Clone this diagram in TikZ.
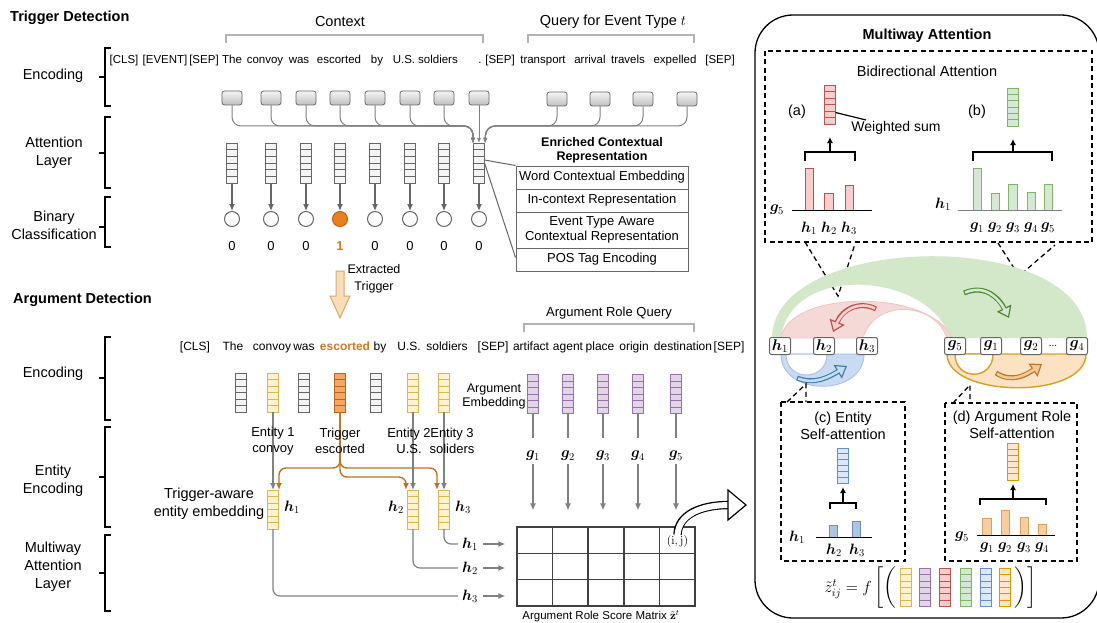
\RequirePackage{fix-cm}
\documentclass[tikz,border=0pt]{standalone}
\usepackage[no-math]{fontspec}
\setmainfont{Liberation Sans}
\usepackage{amsmath,bm}
\usetikzlibrary{arrows.meta,calc}
\definecolor{gS}{HTML}{666666}
\definecolor{gF}{HTML}{F5F5F5}
\definecolor{yS}{HTML}{D6B656}
\definecolor{yF}{HTML}{FFF2CC}
\definecolor{pS}{HTML}{9673A6}
\definecolor{pF}{HTML}{E1D5E7}
\definecolor{rS}{HTML}{B85450}
\definecolor{rF}{HTML}{F8CECC}
\definecolor{grS}{HTML}{82B366}
\definecolor{grF}{HTML}{D5E8D4}
\definecolor{bS}{HTML}{6C8EBF}
\definecolor{bF}{HTML}{DAE8FC}
\definecolor{oS}{HTML}{D79B00}
\definecolor{oF}{HTML}{FFE6CC}
\definecolor{tS}{HTML}{B8651B}
\definecolor{tF}{HTML}{F2A862}
\definecolor{oLine}{HTML}{C07020}
\definecolor{cnn}{HTML}{808080}
\definecolor{brk}{HTML}{B3B3B3}
\definecolor{orTxt}{HTML}{D07A20}
\definecolor{cirF}{HTML}{E8801E}
\definecolor{extF}{HTML}{F9DDB8}
\definecolor{extS}{HTML}{D9A86A}
\definecolor{regG}{HTML}{D3E8C8}
\definecolor{regP}{HTML}{F5D9D7}
\definecolor{regPs}{HTML}{EFC4C1}
\definecolor{regB}{HTML}{C9DBF3}
\definecolor{regBs}{HTML}{A9C4EB}
\definecolor{regO}{HTML}{FBE2C3}
\definecolor{arG}{HTML}{4F8A30}
\definecolor{arGf}{HTML}{D5E8D4}
\definecolor{arB}{HTML}{4A7CA8}
\definecolor{arBf}{HTML}{BFE0F2}
\definecolor{arO}{HTML}{B87733}
\definecolor{arOf}{HTML}{F4C891}
\definecolor{gold}{HTML}{D4A025}
\definecolor{barO}{HTML}{F5CFA0}
\definecolor{barOs}{HTML}{D9A060}
\tikzset{
 vec/.style 2 args={draw=#1, fill=#2, line width=0.9pt, minimum width=11pt, minimum height=39pt, inner sep=0pt, outer sep=0pt,
   path picture={\foreach \k in {1,...,5}{\draw[#1, line width=0.8pt] ($(path picture bounding box.north west)!\k/6!(path picture bounding box.south west)$) -- ($(path picture bounding box.north east)!\k/6!(path picture bounding box.south east)$);}}},
 tbox/.style={draw=gS, line width=0.8pt, rounded corners=2.5pt, minimum width=20pt, minimum height=14pt, top color=gray!8, bottom color=gray!50, inner sep=0pt},
 lab/.style={font=\fontsize{14.5}{18}\selectfont, align=center, inner sep=0pt},
 head/.style={font=\bfseries\fontsize{14.5}{17}\selectfont, anchor=west, inner sep=0pt},
 tok/.style={font=\fontsize{11.5}{14}\selectfont, anchor=base, inner sep=0pt},
 atok/.style={font=\fontsize{12}{14}\selectfont, anchor=base, inner sep=0pt},
 blk/.style={line width=2pt, draw=black},
 gbr/.style={draw=brk, line width=1.6pt},
 bus/.style={draw=cnn, line width=1pt, rounded corners=9pt, -{Latex[length=5pt,width=4pt]}},
 garr/.style={draw=gS, line width=1.2pt, -{Latex[length=7pt,width=6pt]}},
 karr/.style={draw=black, line width=1.3pt, -{Latex[length=6pt,width=6pt]}},
 gline/.style={draw=cnn, line width=1.2pt},
 orl/.style={draw=oLine, line width=1.4pt, rounded corners=7pt, -{Latex[length=7pt,width=6pt]}},
 row/.style={draw=gS, line width=1pt, minimum width=172pt, inner sep=0pt, align=center, font=\fontsize{13}{15.5}\selectfont},
 circ/.style={circle, draw=gS, line width=1pt, minimum size=15pt, inner sep=0pt},
 num/.style={font=\fontsize{13}{15}\selectfont, inner sep=0pt},
 ent/.style={font=\fontsize{13}{16}\selectfont, align=center, inner sep=0pt},
 ml/.style={font=\fontsize{15}{17}\selectfont, inner sep=0pt},
 abox/.style={draw=gS, fill=white, rounded corners=2pt, line width=1pt, minimum width=21pt, minimum height=17pt, inner sep=0pt, font=\fontsize{15.5}{17}\selectfont},
 dsh/.style={draw=black, line width=1.3pt, dash pattern=on 5pt off 3.5pt},
 bar/.style 2 args={draw=#1, fill=#2, line width=0.8pt},
 axl/.style={draw=black, line width=1pt},
 harr/.style 2 args={draw=#1, line width=5pt, -{Triangle[length=11pt,width=16pt,fill=#2,line width=1.2pt]}},
 hin/.style={line width=2.6pt, shorten >=7pt, shorten <=1.2pt},
}
\begin{document}
\begin{tikzpicture}[x=1pt,y=-1pt]
\useasboundingbox (0,0) rectangle (1097,623);

% ---------------- headings and left labels
\node[head] (hTD) at (10,18) {Trigger Detection};
\node[head] (hAD) at (13,300) {Argument Detection};
\node[lab] (l1) at (53,76) {Encoding};
\node[lab] (l2) at (54,153) {Attention\\Layer};
\node[lab] (l3) at (54,225) {Binary\\Classification};
\node[lab] (l4) at (53,374) {Encoding};
\node[lab] (l5) at (53,481) {Entity\\Encoding};
\node[lab] (l6) at (53,567) {Multiway\\Attention\\Layer};
\foreach \t/\b/\m in {48/106/77, 117/188/153, 197/247/227, 337/420/378, 427/527/477, 535/611/573}
  \draw[blk] (111,\t) -- (105,\t) -- (105,\b) -- (111,\b) (105,\m) -- (99,\m);

% ---------------- trigger detection
\node[font=\fontsize{14.5}{17}\selectfont] (ctx) at (340,22) {Context};
\node[font=\fontsize{14.5}{17}\selectfont] (qry) at (613,22) {Query for Event Type $t$};
\draw[gbr] (226,43) -- (226,35) -- (483,35) -- (483,43);
\draw[gbr] (528,43) -- (528,35) -- (694,35) -- (694,43);

\foreach \w/\x [count=\n] in {{[CLS]}/124,{[EVENT]}/165,{[SEP]}/204,The/232,convoy/265,was/299,escorted/339,by/377,U.S./404,soldiers/438,./480,{[SEP]}/500,transport/543,arrival/590,travels/628,expelled/675,{[SEP]}/720}
  \node[tok] (tt\n) at (\x,64) {\w};

\foreach \x [count=\i] in {232,271,306,340,375,410,444,479}{
  \node[tbox] (b\i) at (\x,98) {};
  \node[vec={gS}{gF}, minimum height=40pt] (tv\i) at (\x,163) {};
}
\foreach \x [count=\i] in {557,600,643,687}
  \node[tbox] (q\i) at (\x,99) {};
\coordinate (jl) at (473,126);
\coordinate (jr) at (486,126);
\foreach \i in {1,...,7}
  \draw[bus] (b\i.south) |- (jl) -- ([xshift=-6pt]tv8.north);
\foreach \i in {1,...,4}
  \draw[bus] (q\i.south) |- (jr) -- ([xshift=6pt]tv8.north);
\draw[bus] (b8.south) -- (tv8.north);

\foreach \x [count=\i] in {232,271,306,340,375,410,444,479}{
  \ifnum\i=4
    \node[circ, fill=cirF, draw=tS] (c\i) at (\x,219) {};
    \node[num, text=orTxt, font=\bfseries\fontsize{13}{15}\selectfont] (n\i) at (\x,246) {1};
  \else
    \node[circ] (c\i) at (\x,219) {};
    \node[num] (n\i) at (\x,246) {0};
  \fi
  \draw[garr] (tv\i.south) -- (c\i.north);
}

\node[font=\bfseries\fontsize{12.5}{14}\selectfont, align=center] (ecr) at (602,150) {Enriched Contextual\\Representation};
\node[row, minimum height=23pt] (r1) at (602,177.5) {Word Contextual Embedding};
\node[row, minimum height=23pt] (r2) at (602,200.5) {In-context Representation};
\node[row, minimum height=36pt] (r3) at (602,230) {Event Type Aware\\Contextual Representation};
\node[row, minimum height=23pt] (r4) at (602,259.5) {POS Tag Encoding};
\draw[gS, line width=1pt] ([yshift=3pt]tv8.east) -- (r1.north west);
\draw[gS, line width=1pt] (tv8.east) -- ([yshift=2pt]r4.west);

% extracted trigger arrow
\draw[draw=extS, fill=extF, line width=1pt] (336,271) -- (344,271) -- (344,296) -- (350,296) -- (340,318) -- (330,296) -- (336,296) -- cycle;
\node[font=\fontsize{12.5}{17}\selectfont, align=center] (ext) at (374,279) {Extracted\\Trigger};

% ---------------- argument detection
\foreach \w/\x [count=\n] in {{[CLS]}/195,The/233,convoy/272,was/304,by/380,U.S./409,soldiers/447,{[SEP]}/493,artifact/531,agent/568,place/600,origin/634,destination/683,{[SEP]}/729}
  \node[atok] (at\n) at (\x,350) {\w};
\node[atok, text=orTxt, font=\bfseries\fontsize{12}{14}\selectfont] (atE) at (345,350) {escorted};

\node[font=\fontsize{13}{15}\selectfont] (arq) at (609,313) {Argument Role Query};
\draw[gbr] (524,332) -- (524,324) -- (694,324) -- (694,332);

\node[vec={gS}{gF}] (av1) at (241,392.5) {};
\node[vec={yS}{yF}] (av2) at (273,392.5) {};
\node[vec={gS}{gF}] (av3) at (304,392.5) {};
\node[vec={tS}{tF}] (av4) at (340,392.5) {};
\node[vec={gS}{gF}] (av5) at (376,392.5) {};
\node[vec={yS}{yF}] (av6) at (413,392.5) {};
\node[vec={yS}{yF}] (av7) at (444,392.5) {};

\node[vec={yS}{yF}] (hv1) at (273,509.5) {};
\node[vec={yS}{yF}] (hv2) at (413,509.5) {};
\node[vec={yS}{yF}] (hv3) at (444,509.5) {};

\draw[orl] (av4.south) -- (340,468) -| ([xshift=6pt]hv1.north);
\draw[orl] (av4.south) -- (340,468) -| ([xshift=-7pt]hv3.north);
\draw[orl] (av4.south) |- (380,477) -| ([xshift=-7pt]hv2.north);
\draw[garr, draw=cnn] (av2.south) -- (hv1.north);
\draw[garr, draw=cnn] (av6.south) -- (hv2.north);
\draw[garr, draw=cnn] (av7.south) -- (hv3.north);

\node[ent] (e1) at (273,441) {Entity 1\\convoy};
\node[ent] (e2) at (340,441) {Trigger\\escorted};
\node[ent] (e3) at (409,441) {Entity 2\\U.S.};
\node[ent] (e4) at (452,441) {Entity 3\\soliders};

\node[ml] (lh1) at (292,507) {$\bm{h}_{1}$};
\node[ml] (lh2) at (396,507) {$\bm{h}_{2}$};
\node[ml] (lh3) at (463,507) {$\bm{h}_{3}$};
\node[font=\fontsize{14.5}{18}\selectfont, align=center] (tae) at (209,504) {Trigger-aware\\entity embedding};

\node[font=\fontsize{12.5}{14}\selectfont, align=center] (aemb) at (494,396) {Argument\\Embedding};

% matrix
\node[draw=black!75, line width=1.3pt, minimum width=178pt, minimum height=79pt, inner sep=0pt] (mat) at (606,566.5) {};
\foreach \c in {1,...,4}
  \draw[black!75, line width=1.2pt] ($(mat.north west)!\c/5!(mat.north east)$) -- ($(mat.south west)!\c/5!(mat.south east)$);
\foreach \c in {1,2}
  \draw[black!75, line width=1.2pt] ($(mat.north west)!\c/3!(mat.south west)$) -- ($(mat.north east)!\c/3!(mat.south east)$);
\node[font=\fontsize{12}{14}\selectfont, inner sep=0pt] (ij) at (677.5,541) {$(\mathrm{i,j})$};

\foreach \x [count=\j] in {533,568,603,638,676}{
  \node[vec={pS}{pF}] (pv\j) at (\x,394) {};
  \node[ml] (g\j) at (\x,456) {$\bm{g}_{\j}$};
  \draw[gline] (pv\j.south) -- ++(0,24);
  \draw[garr, draw=cnn] ([yshift=-3pt]g\j.south) -- ([yshift=16pt]mat.north -| g\j);
}

\node[ml] (lm1) at (470,544) {$\bm{h}_{1}$};
\node[ml] (lm2) at (470,568) {$\bm{h}_{2}$};
\node[ml] (lm3) at (470,596) {$\bm{h}_{3}$};
\foreach \k in {1,2,3}
  \draw[garr, draw=cnn] ([xshift=5pt]lm\k.east) -- ([xshift=-11pt]mat.west |- lm\k);
\draw[gline, rounded corners=7pt] (hv3.south) |- ([xshift=-4pt]lm1.west);
\draw[gline, rounded corners=7pt] (hv2.south) |- ([xshift=-4pt]lm2.west);
\draw[gline, rounded corners=7pt] (hv1.south) |- ([xshift=-4pt]lm3.west);

\node[font=\fontsize{11.5}{14}\selectfont, inner sep=0pt] (cap) at (601,616.5) {Argument Role Score Matrix $\tilde{\mathbf{z}}^{t}$};

% hollow arrow from (i,j)
\coordinate (ha) at (729,505);
\draw[black, line width=8.4pt] (ij.north) .. controls (678,515) and (700,505) .. (ha);
\draw[white, line width=6pt] ([yshift=-1.2pt]ij.north) .. controls (678,515) and (700,505) .. ([xshift=1pt]ha);
\draw[fill=white, draw=black, line width=1.2pt] (728,490) -- (746,505) -- (728,520) -- cycle;

% ---------------- right panel
\draw[black, line width=1.3pt, rounded corners=38pt] (755,15) rectangle (1099,618);
\node[font=\bfseries\fontsize{14.5}{17}\selectfont] (mwa) at (927,36) {Multiway Attention};
\draw[dsh] (765,51) rectangle (1092,242);
\node[font=\fontsize{14.5}{17}\selectfont] (bia) at (927,71) {Bidirectional Attention};

% (a)
\node[font=\fontsize{14.5}{17}\selectfont] (pa) at (797,112) {(a)};
\node[vec={rS}{rF}] (rv) at (830,104.5) {};
\node[font=\fontsize{14}{16}\selectfont] (ws) at (896,128) {Weighted sum};
\coordinate (wsl) at (866,120);
\draw[black, line width=1.2pt] ([yshift=-8pt]rv.east) -- (wsl);
\draw[black, line width=1.3pt] (805,161) -- (805,152) -- (855,152) -- (855,161);
\draw[karr] (830,152) -- ([yshift=-13pt]rv.south);
\draw[bar={rS}{rF}] (805,210) rectangle (813,168);
\draw[bar={rS}{rF}] (824,210) rectangle (833,193);
\draw[bar={rS}{rF}] (845,210) rectangle (853,185);
\draw[axl] (792,210) -- (872,210);
\node[ml] (ag5) at (777,210) {$\bm{g}_{5}$};
\node[ml] (ah1) at (809,228) {$\bm{h}_{1}$};
\node[ml] (ah2) at (829,228) {$\bm{h}_{2}$};
\node[ml] (ah3) at (849,228) {$\bm{h}_{3}$};

% (b)
\node[font=\fontsize{14.5}{17}\selectfont] (pb) at (977,112) {(b)};
\node[vec={grS}{grF}, minimum height=38pt] (gv) at (1013,107) {};
\draw[black, line width=1.3pt] (973,161) -- (973,152) -- (1052,152) -- (1052,161);
\draw[karr] (1013,152) -- ([yshift=-13pt]gv.south);
\draw[bar={grS}{grF}] (973,210) rectangle (981,168);
\draw[bar={grS}{grF}] (991,210) rectangle (999,193);
\draw[bar={grS}{grF}] (1008,210) rectangle (1017,184);
\draw[bar={grS}{grF}] (1027,210) rectangle (1035,192);
\draw[bar={grS}{grF}] (1044,210) rectangle (1052,184);
\draw[axl, draw=gray] (958,210) -- (1062,210);
\node[ml] (bh1) at (943,204) {$\bm{h}_{1}$};
\foreach \x [count=\j] in {977,995,1013,1031,1048}
  \node[ml] (bg\j) at (\x,228) {$\bm{g}_{\j}$};

% dashed pointers
\draw[dsh] (805,242) -- (838,296) -- (855,244);
\draw[dsh] (998,243) -- (1019,276) -- (1055,245);

% arc regions
\fill[regG] (772,338) .. controls (772,232) and (1087,226) .. (1087,338) -- (950,338) .. controls (930,272) and (790,262) .. (781,338) -- cycle;
\filldraw[fill=regP, draw=regPs, line width=0.8pt] (781,338) .. controls (788,290) and (930,288) .. (952,338) -- (947,338) .. controls (935,302) and (875,298) .. (863,338) -- cycle;
\filldraw[fill=regB, draw=regBs, line width=1pt] (781,354) .. controls (781,397) and (864,397) .. (864,354) -- cycle;
\filldraw[fill=white, draw=regBs, line width=1pt] (786,354) .. controls (786,382) and (827,382) .. (827,354) -- cycle;
\filldraw[fill=regO, draw=gold, line width=1.4pt] (947,354) .. controls (947,398) and (1086,400) .. (1086,354) -- cycle;
\filldraw[fill=white, draw=gold, line width=1.4pt] (955,354) .. controls (955,381) and (993,381) .. (993,354) -- cycle;

% arc arrows
\draw[harr={rS}{rF}] (876,309) .. controls (860,301) and (843,308) .. (833,332);
\draw[rF, hin] (876,309) .. controls (860,301) and (843,308) .. (833,332);
\draw[harr={arG}{arGf}] (964,293) .. controls (985,284) and (999,298) .. (1009,318);
\draw[arGf, hin] (964,293) .. controls (985,284) and (999,298) .. (1009,318);
\draw[harr={arB}{arBf}] (797,378) .. controls (815,385) and (829,377) .. (847,366);
\draw[arBf, hin] (797,378) .. controls (815,385) and (829,377) .. (847,366);
\draw[harr={arO}{arOf}] (996,373) .. controls (1012,383) and (1026,375) .. (1042,364);
\draw[arOf, hin] (996,373) .. controls (1012,383) and (1026,375) .. (1042,364);

% token boxes
\node[abox] (kh1) at (780,346) {$\bm{h}_{1}$};
\node[abox] (kh2) at (824,346) {$\bm{h}_{2}$};
\node[abox] (kh3) at (867,346) {$\bm{h}_{3}$};
\node[abox] (kg5) at (955,346) {$\bm{g}_{5}$};
\node[abox] (kg1) at (991,346) {$\bm{g}_{1}$};
\node[abox] (kg2) at (1031,346) {$\bm{g}_{2}$};
\node[font=\fontsize{10}{12}\selectfont, inner sep=0pt] (kdots) at (1053,346) {...};
\node[abox] (kg4) at (1077,346) {$\bm{g}_{4}$};

% (c)
\draw[dsh] (781,402) rectangle (905,561);
\draw[dsh] (787,402) -- (806,384) -- (806,402);
\node[font=\fontsize{14.5}{17}\selectfont, align=center] (pc) at (843,426) {(c) Entity\\Self-attention};
\node[vec={bS}{bF}, minimum height=35pt] (bv) at (843,465.5) {};
\draw[black, line width=1.3pt] (830,509) -- (830,503) -- (856,503) -- (856,509);
\draw[karr] (843,503) -- ([yshift=-4pt]bv.south);
\draw[bar={bS}{bF!60!bS}] (829,537) rectangle (837,525);
\draw[bar={bS}{bF!60!bS}] (852,537) rectangle (860,521);
\draw[axl] (816,537) -- (872,537);
\node[ml] (ch1) at (797,537) {$\bm{h}_{1}$};
\node[ml] (ch2) at (834,550) {$\bm{h}_{2}$};
\node[ml] (ch3) at (857,550) {$\bm{h}_{3}$};

% (d)
\draw[dsh] (945,403) rectangle (1077,561);
\draw[dsh] (953,403) -- (970,385) -- (970,403);
\node[font=\fontsize{14.5}{17}\selectfont, align=center] (pd) at (1012,425) {(d) Argument Role\\Self-attention};
\node[vec={oS}{oF}, minimum height=37pt] (ov) at (1013,461.5) {};
\draw[black, line width=1.3pt] (980,505) -- (980,499) -- (1046,499) -- (1046,505);
\draw[karr] (1013,499) -- ([yshift=-4pt]ov.south);
\draw[bar={barOs}{barO}] (982,535) rectangle (991,518);
\draw[bar={barOs}{barO}] (1001,535) rectangle (1009,510);
\draw[bar={barOs}{barO}] (1020,535) rectangle (1028,517);
\draw[bar={barOs}{barO}] (1038,535) rectangle (1046,524);
\draw[axl] (977,535) -- (1055,535);
\node[ml] (dg5) at (962,537) {$\bm{g}_{5}$};
\foreach \x [count=\j] in {987,1005,1024,1042}
  \node[ml] (dg\j) at (\x,548) {$\bm{g}_{\j}$};

% formula
\node[font=\fontsize{16}{18}\selectfont, anchor=east, inner sep=0pt] (fz) at (899,588) {$\tilde{z}^{t}_{ij}=f\left[\left(\vrule height 18pt depth 16pt width 0pt\right.\right.$};
\node[vec={yS}{yF}, minimum height=38pt] (fv1) at (905.5,587.5) {};
\node[vec={pS}{pF}, minimum height=38pt] (fv2) at (925,587.5) {};
\node[vec={rS}{rF}, minimum height=38pt] (fv3) at (945,587.5) {};
\node[vec={grS}{grF}, minimum height=38pt] (fv4) at (966,587.5) {};
\node[vec={bS}{bF}, minimum height=38pt] (fv5) at (986,587.5) {};
\node[vec={oS}{oF}, minimum height=38pt] (fv6) at (1005,587.5) {};
\node[font=\fontsize{16}{18}\selectfont, anchor=west, inner sep=0pt] (fz2) at (1012,588) {$\left.\left.\vrule height 18pt depth 16pt width 0pt\right)\right]$};
\end{tikzpicture}
\end{document}
